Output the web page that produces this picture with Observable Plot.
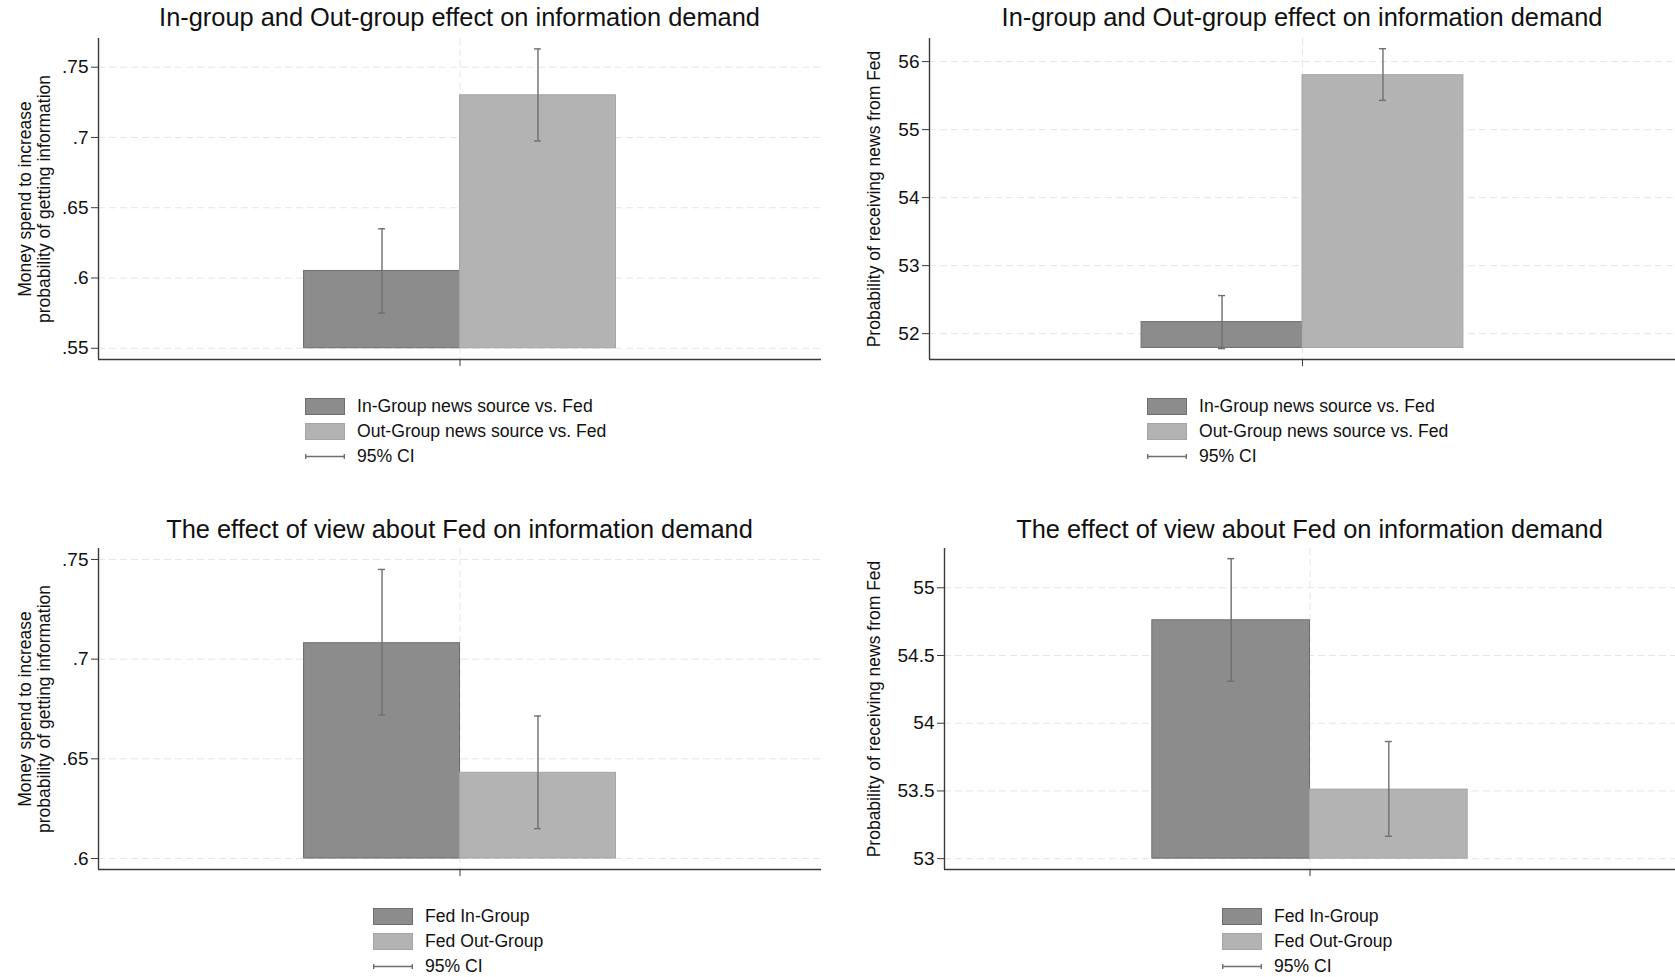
<!DOCTYPE html>
<html><head><meta charset="utf-8">
<script src="https://cdn.jsdelivr.net/npm/d3@7"></script>
<script src="https://cdn.jsdelivr.net/npm/@observablehq/plot@0.6"></script>
<style>
body{margin:0;background:#fff;}
#root{position:relative;width:1675px;height:977px;background:#fff;font-family:"Liberation Sans",Arial,sans-serif;color:#111;overflow:hidden;}
.panel{position:absolute;}
.panel svg{display:block;}
.title{position:absolute;text-align:center;font-size:25.4px;line-height:30px;white-space:nowrap;color:#111;}
.legend{position:absolute;font-size:17.6px;color:#111;}
.row{display:flex;align-items:center;height:25px;white-space:nowrap;}
.sw{width:40px;height:17px;box-sizing:border-box;margin-right:12px;}
</style></head><body><div id="root"></div>
<script>
// ---- data ----
const groupsNews = ["In-Group news source vs. Fed", "Out-Group news source vs. Fed"];
const groupsFed = ["Fed In-Group", "Fed Out-Group"];
const ciLabel = "95% CI";
const titleNews = "In-group and Out-group effect on information demand";
const titleFed = "The effect of view about Fed on information demand";
const labelMoney = "Money spend to increase\nprobability of getting information";
const labelProb = "Probability of receiving news from Fed";

const moneyNewsMean = [0.605, 0.730];
const moneyNewsLo = [0.575, 0.6975];
const moneyNewsHi = [0.635, 0.763];
const probNewsMean = [52.17, 55.80];
const probNewsLo = [51.78, 55.43];
const probNewsHi = [52.56, 56.19];
const moneyFedMean = [0.708, 0.643];
const moneyFedLo = [0.672, 0.615];
const moneyFedHi = [0.745, 0.6715];
const probFedMean = [54.76, 53.51];
const probFedLo = [54.31, 53.165];
const probFedHi = [55.215, 53.865];

const ticksMoneyNews = [0.55, 0.6, 0.65, 0.7, 0.75];
const ticksProbNews = [52, 53, 54, 55, 56];
const ticksMoneyFed = [0.6, 0.65, 0.7, 0.75];
const ticksProbFed = [53, 53.5, 54, 54.5, 55];

const baseMoneyNews = 0.55, baseProbNews = 51.79, baseMoneyFed = 0.6, baseProbFed = 53;
const domMoneyNews = [0.542, 0.7704];
const domProbNews = [51.62, 56.34];
const domMoneyFed = [0.5945, 0.7555];
const domProbFed = [52.92, 55.29];

const barColors = ["#8c8c8c", "#b3b3b3"];
const barStrokes = ["#6e6e6e", "#a4a4a4"];
const ciColor = "#6e6e6e";
const gridColor = "#e6e6e6";
const axisColor = "#3a3a3a";

// ---- drawing ----
const root = d3.select("#root");
const pad = 1.318, cap = 0.022;
const fmtMoney = d => d3.format(".2~f")(d).replace(/^0/, "");
const fmtProb = d => d3.format("~g")(d);
const FONT = '"Liberation Sans", Arial, sans-serif';

function drawPanel(c) {
  const n = c.groups.length;
  const data = c.groups.map((g, i) => ({g, i, mean: c.mean[i], lo: c.lo[i], hi: c.hi[i]}));
  const xDom = [-pad, n + pad];
  const svg = Plot.plot({
    width: c.box[2], height: c.box[3],
    marginTop: c.m[0], marginRight: c.m[1], marginBottom: c.m[2], marginLeft: c.m[3],
    style: {fontFamily: FONT, fontSize: "18px", color: "#111", background: "transparent", overflow: "visible"},
    x: {domain: xDom},
    y: {domain: c.domain},
    color: {type: "identity"},
    marks: [
      Plot.ruleY(c.ticks, {stroke: gridColor, strokeDasharray: "7,4"}),
      Plot.ruleX([n / 2], {stroke: gridColor, strokeDasharray: "7,4"}),
      Plot.rectY(data, {x1: "i", x2: d => d.i + 1, y1: c.base, y2: "mean",
        fill: d => barColors[d.i], stroke: d => barStrokes[d.i], strokeWidth: 1}),
      Plot.ruleX(data, {x: d => d.i + 0.5, y1: "lo", y2: "hi", stroke: ciColor, strokeWidth: 1.4}),
      Plot.ruleY(data, {y: "hi", x1: d => d.i + 0.5 - cap, x2: d => d.i + 0.5 + cap, stroke: ciColor, strokeWidth: 1.4}),
      Plot.ruleY(data, {y: "lo", x1: d => d.i + 0.5 - cap, x2: d => d.i + 0.5 + cap, stroke: ciColor, strokeWidth: 1.4}),
      Plot.axisY(c.ticks, {tickFormat: c.fmt, tickSize: 7, tickPadding: 3, fontSize: 19, label: null,
        stroke: axisColor, fill: "#111"}),
      Plot.axisX([n / 2], {tickFormat: () => "", tickSize: 7, label: null, stroke: axisColor}),
      Plot.ruleY([c.domain[0]], {stroke: axisColor, strokeWidth: 1.4}),
      Plot.ruleX([xDom[0]], {stroke: axisColor, strokeWidth: 1.4}),
      Plot.text([c.label], {text: d => d, frameAnchor: "left", rotate: -90, textAnchor: "middle",
        lineAnchor: "top", dx: c.labelDx, fontSize: 17.5, lineHeight: 1.1, fill: "#111"})
    ]
  });
  root.append("div").attr("class", "panel")
    .style("left", c.box[0] + "px").style("top", c.box[1] + "px")
    .style("width", c.box[2] + "px").style("height", c.box[3] + "px")
    .node().appendChild(svg);

  const plotLeft = c.box[0] + c.m[3];
  const plotW = c.box[2] - c.m[3] - c.m[1];
  root.append("div").attr("class", "title")
    .style("left", plotLeft + "px").style("width", plotW + "px").style("top", c.titleTop + "px")
    .text(c.title);

  const lg = root.append("div").attr("class", "legend")
    .style("left", c.legend[0] + "px").style("top", c.legend[1] + "px");
  c.groups.forEach((g, i) => {
    const r = lg.append("div").attr("class", "row");
    r.append("div").attr("class", "sw").style("background", barColors[i]).style("border", `1px solid ${barStrokes[i]}`);
    r.append("span").text(g);
  });
  const r = lg.append("div").attr("class", "row");
  const s = r.append("svg").attr("width", 40).attr("height", 17).style("margin-right", "12px");
  s.append("path").attr("d", "M0.5,8.5H39.5M0.7,6V11M39.3,6V11")
    .attr("stroke", ciColor).attr("stroke-width", 1.4).attr("fill", "none");
  r.append("span").text(ciLabel);
}

drawPanel({groups: groupsNews, mean: moneyNewsMean, lo: moneyNewsLo, hi: moneyNewsHi, base: baseMoneyNews,
  domain: domMoneyNews, ticks: ticksMoneyNews, fmt: fmtMoney, label: labelMoney, title: titleNews,
  box: [0, 30, 838, 345], m: [8, 17, 16, 98], labelDx: -81, titleTop: 2, legend: [305, 394]});
drawPanel({groups: groupsNews, mean: probNewsMean, lo: probNewsLo, hi: probNewsHi, base: baseProbNews,
  domain: domProbNews, ticks: ticksProbNews, fmt: fmtProb, label: labelProb, title: titleNews,
  box: [838, 30, 837, 345], m: [8, 0, 16, 91], labelDx: -63, titleTop: 2, legend: [1147, 394]});
drawPanel({groups: groupsFed, mean: moneyFedMean, lo: moneyFedLo, hi: moneyFedHi, base: baseMoneyFed,
  domain: domMoneyFed, ticks: ticksMoneyFed, fmt: fmtMoney, label: labelMoney, title: titleFed,
  box: [0, 540, 838, 345], m: [8, 17, 16, 98], labelDx: -81, titleTop: 514, legend: [373, 904]});
drawPanel({groups: groupsFed, mean: probFedMean, lo: probFedLo, hi: probFedHi, base: baseProbFed,
  domain: domProbFed, ticks: ticksProbFed, fmt: fmtProb, label: labelProb, title: titleFed,
  box: [838, 540, 837, 345], m: [8, 0, 16, 106], labelDx: -78, titleTop: 514, legend: [1222, 904]});
</script></body></html>
